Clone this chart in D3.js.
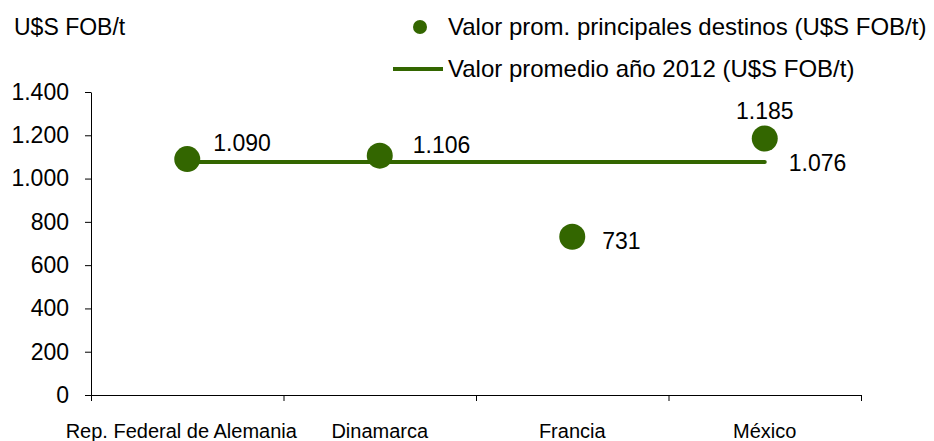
<!DOCTYPE html>
<html>
<head>
<meta charset="utf-8">
<script src="https://d3js.org/d3.v7.min.js"></script>
<style>
  body { margin: 0; background: #fff; }
  text { font-family: "Liberation Sans", Arial, sans-serif; fill: #000; }
  .axis path, .axis line { stroke: #000; }
</style>
</head>
<body>
<svg width="934" height="441"></svg>
<script>
var destinos = ["Rep. Federal de Alemania", "Dinamarca", "Francia", "México"];
var valorDestino = [1090, 1106, 731, 1185];
var promedio2012 = [1076, 1076, 1076, 1076];
var yTicks = [0, 200, 400, 600, 800, 1000, 1200, 1400];

var green = "#336600";
var fmt = function(v){ return d3.format(",")(v).replace(/,/g, "."); };

var svg = d3.select("svg"),
    margin = {top: 92, right: 73, bottom: 46, left: 91},
    width = +svg.attr("width") - margin.left - margin.right,
    height = +svg.attr("height") - margin.top - margin.bottom;

var x = d3.scaleBand().domain(destinos).range([0, width]),
    y = d3.scaleLinear().domain([0, 1400]).range([height, 0]);

var g = svg.append("g")
    .attr("transform", "translate(" + margin.left + "," + margin.top + ")");

// eje y
var ay = g.append("g").attr("class", "axis")
    .call(d3.axisLeft(y).tickValues(yTicks).tickSize(6).tickPadding(16)
      .tickFormat(fmt));
ay.select(".domain").attr("d", "M0.5," + height + "V0.5");
ay.selectAll(".tick line").attr("stroke", "#888");
ay.selectAll("text").style("font-size", "23px");

// eje x
var ax = g.append("g").attr("class", "axis")
    .attr("transform", "translate(0," + height + ")");
ax.append("path").attr("d", "M0," + 0.5 + "H" + width).attr("stroke", "#000");
var edges = d3.range(destinos.length + 1).map(function(i){ return i * x.step(); });
ax.selectAll(".edge").data(edges).enter().append("line")
    .attr("x1", function(d){ return d + 0.5; }).attr("x2", function(d){ return d + 0.5; })
    .attr("y1", 0).attr("y2", 6).attr("stroke", "#888");
ax.selectAll(".lbl").data(destinos).enter().append("text")
    .attr("x", function(d, i){ return x(d) + x.bandwidth() / 2 - (i === 0 ? 6 : 0); })
    .attr("y", 43)
    .attr("text-anchor", "middle")
    .style("font-size", "20px")
    .text(function(d){ return d; });

// linea promedio
var line = d3.line()
    .x(function(d, i){ return x(destinos[i]) + x.bandwidth() / 2; })
    .y(function(d){ return y(d); });

g.append("path")
    .attr("d", line(promedio2012))
    .attr("fill", "none")
    .attr("stroke", green)
    .attr("stroke-width", 4)
    .attr("stroke-linecap", "round");

// puntos
g.selectAll(".pt").data(valorDestino).enter().append("circle")
    .attr("cx", function(d, i){ return x(destinos[i]) + x.bandwidth() / 2; })
    .attr("cy", function(d){ return y(d); })
    .attr("r", 13)
    .attr("fill", green);

// etiquetas de valores
var lblOff = [[26, -8, "start"], [33, -3, "start"], [30, 12, "start"], [0, -20, "middle"]];
g.selectAll(".val").data(valorDestino).enter().append("text")
    .attr("x", function(d, i){ return x(destinos[i]) + x.bandwidth() / 2 + lblOff[i][0]; })
    .attr("y", function(d, i){ return y(d) + lblOff[i][1]; })
    .attr("text-anchor", function(d, i){ return lblOff[i][2]; })
    .style("font-size", "23px")
    .text(fmt);

var last = destinos.length - 1;
g.append("text")
    .attr("x", x(destinos[last]) + x.bandwidth() / 2 + 24)
    .attr("y", y(promedio2012[last]) + 9)
    .style("font-size", "23px")
    .text(fmt(promedio2012[last]));

// titulo eje
svg.append("text").attr("x", 14).attr("y", 35)
    .style("font-size", "23px").text("U$S FOB/t");

// leyenda
var lg = svg.append("g");
lg.append("circle").attr("cx", 420).attr("cy", 27).attr("r", 7).attr("fill", green);
lg.append("text").attr("x", 448).attr("y", 35).style("font-size", "24px")
    .text("Valor prom. principales destinos (U$S FOB/t)");
lg.append("line").attr("x1", 393).attr("x2", 443).attr("y1", 69).attr("y2", 69)
    .attr("stroke", green).attr("stroke-width", 4);
lg.append("text").attr("x", 448).attr("y", 77).style("font-size", "24px")
    .text("Valor promedio año 2012 (U$S FOB/t)");
</script>
</body>
</html>
